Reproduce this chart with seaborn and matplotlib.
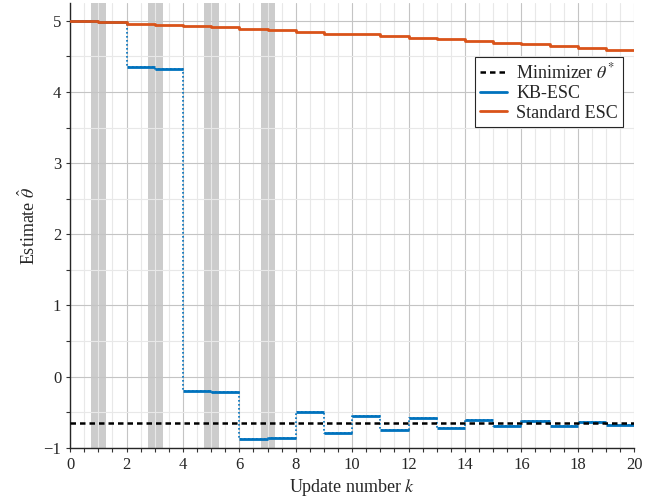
import numpy as np
import pandas as pd
import matplotlib
matplotlib.use('Agg')
import matplotlib.pyplot as plt
from matplotlib.ticker import MultipleLocator
import seaborn as sns

# ============================================================
# 数据
# ============================================================
k_edges = list(range(0, 21))
standard_esc = [5.0, 4.977, 4.958, 4.94, 4.925, 4.906, 4.888, 4.864, 4.84, 4.82,
                4.81, 4.78, 4.757, 4.737, 4.71, 4.69, 4.673, 4.645, 4.62, 4.593]
kb_esc = [5.0, 4.977, 4.35, 4.316, -0.195, -0.214, -0.874, -0.86, -0.49, -0.794,
          -0.547, -0.748, -0.584, -0.724, -0.607, -0.696, -0.626, -0.687, -0.635, -0.673]
theta_star = -0.655
shaded_centers = [1, 3, 5, 7]

BLUE = '#0072BD'
ORANGE = '#D95319'

# ============================================================
# 绘图配置
# ============================================================
sns.set_style('ticks')
plt.rcParams['font.family'] = ['Liberation Serif', 'DejaVu Serif']
plt.rcParams['mathtext.fontset'] = 'stix'
FONT_SIZE = 13
DASH = (0, (2.2, 1.6))

fig, ax = plt.subplots(figsize=(6.62, 4.97), dpi=100)
fig.subplots_adjust(left=0.106, right=0.958, bottom=0.099, top=0.994)

# 灰色区域
for c in shaded_centers:
    ax.axvspan(c - 0.25, c + 0.28, color='#cccccc', lw=0, zorder=0.2)

# 阶梯数据 (steps-post 需要最后一个值重复)
df = pd.DataFrame({
    'k': k_edges,
    'kb': kb_esc + [kb_esc[-1]],
    'std': standard_esc + [standard_esc[-1]],
})

# KB-ESC: 虚线竖直连接 + 实线水平段
sns.lineplot(data=df, x='k', y='kb', ax=ax, estimator=None, drawstyle='steps-post',
             color=BLUE, lw=1.2, linestyle=(0, (1, 1.4)), zorder=2)
ax.hlines(kb_esc, k_edges[:-1], k_edges[1:], color=BLUE, lw=2, zorder=3)
kb_handle = plt.Line2D([], [], color=BLUE, lw=2)

# 最小值
sns.lineplot(x=[0, 20], y=[theta_star, theta_star], ax=ax, color='black', lw=1.8,
             linestyle=DASH, zorder=4)
min_handle = plt.Line2D([], [], color='black', lw=1.8, linestyle=DASH)

# Standard ESC
sns.lineplot(data=df, x='k', y='std', ax=ax, estimator=None, drawstyle='steps-post',
             color=ORANGE, lw=2, zorder=5)
std_handle = plt.Line2D([], [], color=ORANGE, lw=2)

# 坐标轴
ax.set_xlim(0, 20)
ax.set_ylim(-1, 5.25)
ax.xaxis.set_major_locator(MultipleLocator(2))
ax.xaxis.set_minor_locator(MultipleLocator(0.5))
ax.yaxis.set_major_locator(MultipleLocator(1))
ax.yaxis.set_minor_locator(MultipleLocator(0.5))
ax.set_axisbelow(True)
ax.grid(which='major', color='#c4c4c4', lw=0.8)
ax.grid(which='minor', color='#e8e8e8', lw=0.8)
ax.tick_params(which='both', direction='out', length=3, width=0.8, color='#333333',
               labelsize=12)
for s in ['top', 'right']:
    ax.spines[s].set_visible(False)
for s in ['left', 'bottom']:
    ax.spines[s].set_color('#262626')
    ax.spines[s].set_linewidth(1.0)

ax.set_xlabel('Update number $k$', fontsize=FONT_SIZE, labelpad=3)
ax.set_ylabel(r'Estimate $\hat{\theta}$', fontsize=FONT_SIZE, labelpad=3)

leg = ax.legend([min_handle, kb_handle, std_handle],
                [r'Minimizer $\theta^{*}$', 'KB-ESC', 'Standard ESC'],
                loc='upper right', bbox_to_anchor=(0.9805, 0.879), borderaxespad=0,
                fontsize=FONT_SIZE, fancybox=False, framealpha=1, edgecolor='#262626',
                handlelength=1.5, borderpad=0.3, labelspacing=0.15, handletextpad=0.5)
leg.get_frame().set_linewidth(0.8)

plt.savefig('out.png', dpi=100)
plt.close()
